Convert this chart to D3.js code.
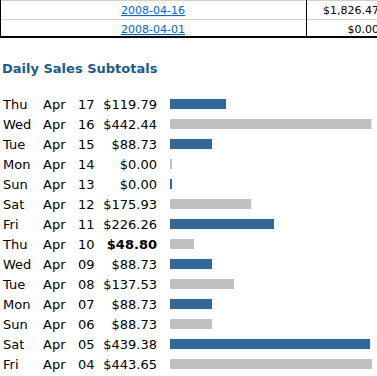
<!DOCTYPE html>
<html><head><meta charset="utf-8">
<script src="https://cdn.jsdelivr.net/npm/d3@7"></script>
<style>body{margin:0;background:#fff;} svg{display:block;}</style>
</head><body>
<svg id="c" width="377" height="376"></svg>
<script>
const topDates = ["2008-04-16", "2008-04-01"];
const topTotals = ["$1,826.47", "$0.00"];
const weekdays = ["Thu","Wed","Tue","Mon","Sun","Sat","Fri","Thu","Wed","Tue","Mon","Sun","Sat","Fri"];
const months = ["Apr","Apr","Apr","Apr","Apr","Apr","Apr","Apr","Apr","Apr","Apr","Apr","Apr","Apr"];
const days = ["17","16","15","14","13","12","11","10","09","08","07","06","05","04"];
const sales = [119.79, 442.44, 88.73, 0.00, 0.00, 175.93, 226.26, 48.80, 88.73, 137.53, 88.73, 88.73, 439.38, 443.65];
const boldRows = [7];
const title = "Daily Sales Subtotals";

const svg = d3.select("#c");
const font = "'DejaVu Sans', Verdana, sans-serif";

// top table fragment
const tg = svg.append("g");
tg.append("line").attr("x1",0).attr("x2",377).attr("y1",0.5).attr("y2",0.5).attr("stroke","#d4d0c8");
tg.append("line").attr("x1",0).attr("x2",377).attr("y1",19.5).attr("y2",19.5).attr("stroke","#d4d0c8");
tg.append("line").attr("x1",0).attr("x2",377).attr("y1",37).attr("y2",37).attr("stroke","#000").attr("stroke-width",2);
tg.append("line").attr("x1",0.5).attr("x2",0.5).attr("y1",0).attr("y2",38).attr("stroke","#000");
tg.append("line").attr("x1",306.5).attr("x2",306.5).attr("y1",0).attr("y2",38).attr("stroke","#000");
const ty = d3.scaleBand().domain(d3.range(topDates.length)).range([0,38]);
tg.selectAll("text.d").data(topDates).join("text").attr("class","d")
  .attr("x",153).attr("y",(d,i)=>ty(i)+14).attr("text-anchor","middle")
  .attr("font-family",font).attr("font-size","11px").attr("fill","#0066cc")
  .attr("text-decoration","underline").text(d=>d);
tg.selectAll("text.t").data(topTotals).join("text").attr("class","t")
  .attr("x",379).attr("y",(d,i)=>ty(i)+14).attr("text-anchor","end")
  .attr("font-family",font).attr("font-size","11px").attr("fill","#000").text(d=>d);

// title
svg.append("text").attr("x",2).attr("y",73).attr("font-family",font).attr("font-size","13px")
  .attr("font-weight","bold").attr("fill","#1d5a8a").text(title);

// rows
const y = d3.scaleBand().domain(d3.range(sales.length)).range([94, 94+20*sales.length]);
const x = d3.scaleLinear().domain([0, d3.max(sales)]).range([2, 202]);
const rows = svg.selectAll("g.row").data(sales).join("g").attr("class","row")
  .attr("transform",(d,i)=>`translate(0,${y(i)})`);
const tx = (g, xpos, anchor, acc) => g.append("text").attr("x",xpos).attr("y",15)
  .attr("text-anchor",anchor).attr("font-family",font).attr("font-size","13px").attr("fill","#000").text(acc);
tx(rows, 3, "start", (d,i)=>weekdays[i]);
tx(rows, 43, "start", (d,i)=>months[i]);
tx(rows, 78, "start", (d,i)=>days[i]);
tx(rows, 157, "end", d=>"$"+d3.format(".2f")(d)).attr("font-weight",(d,i)=>boldRows.includes(i)?"bold":"normal");
rows.append("rect").attr("x",170).attr("y",5).attr("height",10)
  .attr("width",d=>x(d)).attr("fill",(d,i)=>i%2===0?"#336699":"#c0c0c0");
</script>
</body></html>
